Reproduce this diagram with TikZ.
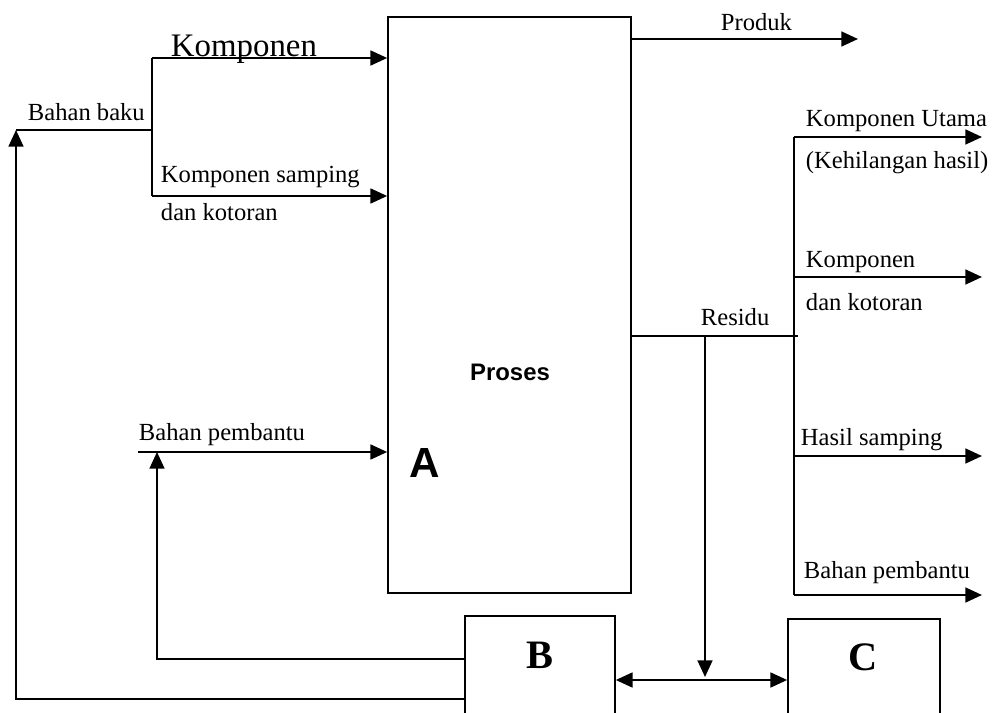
\documentclass[tikz,border=0pt]{standalone}
\usepackage{fontspec}
\setmainfont{Liberation Serif}
\newfontfamily\arialfont{Liberation Sans}
\usetikzlibrary{arrows.meta}
\tikzset{
  lbl/.style={anchor=base west, inner sep=0pt, font=\fontsize{14}{16}\selectfont},
  blk/.style={draw, line width=1pt, inner sep=0pt},
  huruf/.style={inner sep=0pt, font=\fontsize{23}{25}\selectfont\bfseries},
}
\begin{document}
\begin{tikzpicture}[x=0.02cm,y=-0.02cm,line width=1.1pt,line join=miter,
    >={Triangle[length=9.5pt,width=8.5pt]}]
  \useasboundingbox (0,0) rectangle (995,713);
  % kotak
  \node[blk,minimum width=4.86cm,minimum height=11.52cm] (A) at (509.5,305) {};
  \node[blk,minimum width=3cm,minimum height=2.2cm] (B) at (540,671) {};
  \node[blk,minimum width=3.04cm,minimum height=2.2cm] (C) at (864,674) {};
  \node[inner sep=0pt,font=\arialfont\fontsize{13.6}{15}\selectfont\bfseries] (proses) at (510,372) {Proses};
  \node[inner sep=0pt,font=\arialfont\fontsize{24}{26}\selectfont\bfseries] (hurufA) at (425,463) {A};
  \node[huruf] (hurufB) at (540,655) {B};
  \node[huruf] (hurufC) at (863,657) {C};
  % masukan
  \coordinate (baku) at (16,130);
  \coordinate (cabang) at (152,130);
  \coordinate (kom1) at (152,58);
  \coordinate (kom2) at (152,196);
  \coordinate (bp) at (138,452);
  \coordinate (bpnaik) at (157,452);
  \draw (baku) -- (cabang);
  \draw (kom1) -- (kom2);
  \draw[->] (kom1) -- (A.west |- kom1);
  \draw[->] (kom2) -- (A.west |- kom2);
  \draw[->] (bp) -- (A.west |- bp);
  \coordinate (Bbawah) at (465,699);
  \coordinate (Btengah) at (465,659);
  \draw[->] (Bbawah) -| (baku);
  \draw[->] (Btengah) -| (bpnaik);
  % keluaran
  \coordinate (produk) at (858,39);
  \draw[->] (A.east |- produk) -- (produk);
  \coordinate (res) at (798,336);
  \coordinate (resbawah) at (705,336);
  \coordinate (temu) at (705,680);
  \coordinate (temuatas) at (705,677);
  \draw (A.east |- res) -- (res);
  \draw[->] (resbawah) -- (temuatas);
  \draw[<->] (B.east |- temu) -- (C.west |- temu);
  \foreach \y/\n in {137/u,277/k,456/h,595/p}
  {
    \coordinate (j\n) at (794,\y);
    \coordinate (e\n) at (982,\y);
    \draw[->] (j\n) -- (e\n);
  }
  \draw (ju) -- (jp);
  % teks
  \node[lbl,font=\fontsize{18.7}{20}\selectfont] (tkom) at (170,57) {Komponen};
  \node[lbl] (tbaku) at (27,121) {Bahan baku};
  \node[lbl] (tsamp) at (160,183) {Komponen samping};
  \node[lbl] (tkot) at (160,220) {dan kotoran};
  \node[lbl] (tbp) at (138,440) {Bahan pembantu};
  \node[lbl] (tprod) at (720,31) {Produk};
  \node[lbl] (tutama) at (805,127) {Komponen Utama};
  \node[lbl] (thilang) at (805,169) {(Kehilangan hasil)};
  \node[lbl] (tkom2) at (805,268) {Komponen};
  \node[lbl] (tkot2) at (805,311) {dan kotoran};
  \node[lbl] (tres) at (700,325) {Residu};
  \node[lbl] (thasil) at (800,445) {Hasil samping};
  \node[lbl] (tbp2) at (803,578) {Bahan pembantu};
\end{tikzpicture}
\end{document}
